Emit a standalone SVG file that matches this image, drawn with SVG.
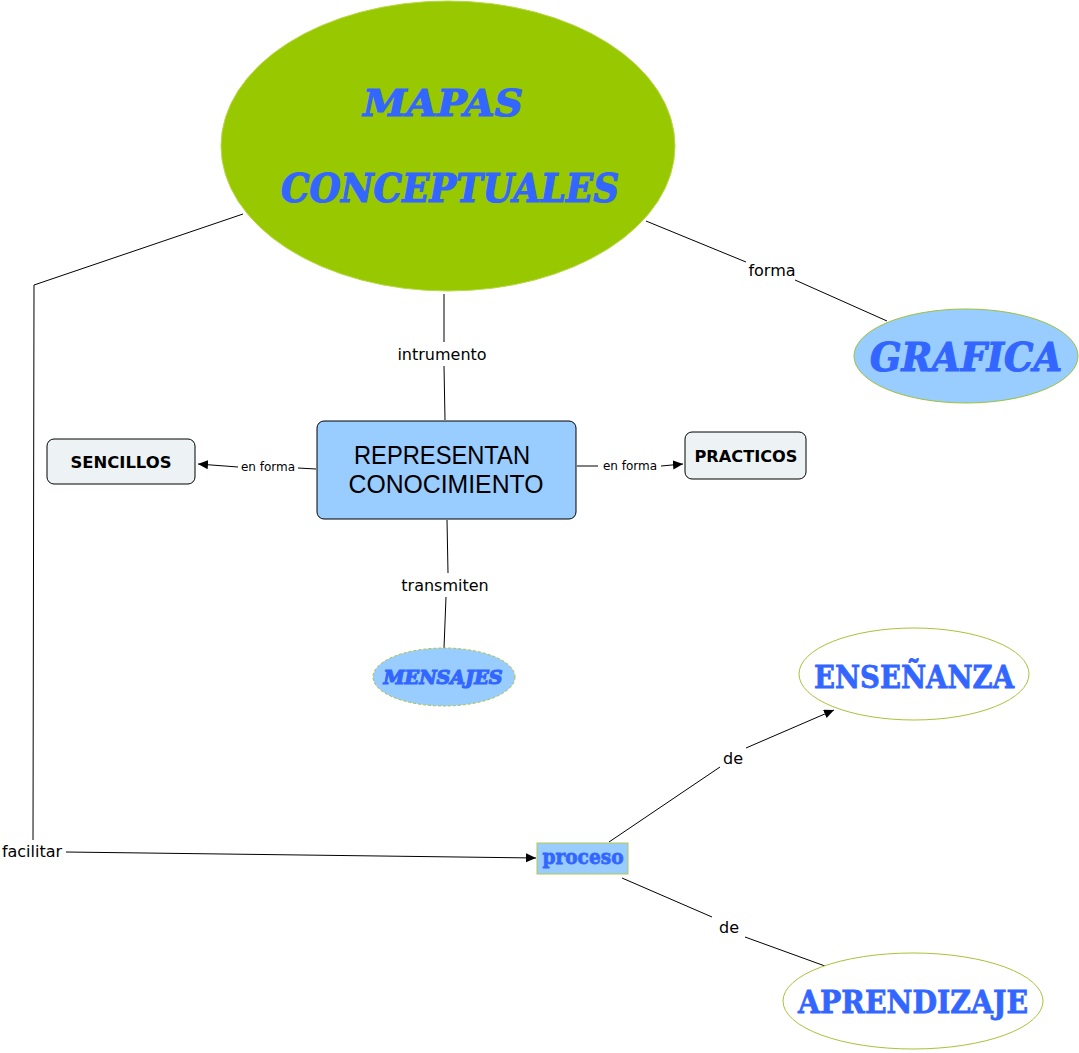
<svg xmlns="http://www.w3.org/2000/svg" width="1079" height="1053" viewBox="0 0 1079 1053">
<defs>
<marker id="arr" markerUnits="userSpaceOnUse" markerWidth="11" markerHeight="10" refX="10" refY="4.5" orient="auto">
<path d="M0,0 L10,4.5 L0,9 z" fill="#000"/>
</marker>
<style>
.ln{stroke:#000;stroke-width:1;fill:none}
.lbl{font-family:"DejaVu Sans",Verdana,sans-serif;font-size:16px;fill:#000;text-anchor:middle}
.sm{font-family:"DejaVu Sans",Verdana,sans-serif;font-size:12px;fill:#000;text-anchor:middle}
.deco{font-family:"DejaVu Serif",serif;font-weight:bold;font-style:italic;fill:#3366ff;stroke:#3366ff;stroke-width:1.2;text-anchor:middle}
.slab{font-family:"DejaVu Serif",serif;font-weight:bold;fill:#3366ff;stroke:#3366ff;stroke-width:0.8;text-anchor:middle}
.box{font-family:"DejaVu Sans",Verdana,sans-serif;font-weight:bold;font-size:16px;fill:#000;text-anchor:middle}
.blue{fill:#99ccff}
</style>
</defs>
<rect width="1079" height="1053" fill="#fff"/>
<g id="connectors">
<polyline class="ln" points="243,214 34,285 33,840"/>
<line class="ln" x1="66" y1="852" x2="536" y2="858" marker-end="url(#arr)"/>
<text class="lbl" x="32" y="857">facilitar</text>
<line class="ln" x1="444" y1="294" x2="444" y2="342"/>
<line class="ln" x1="444" y1="366" x2="445" y2="420"/>
<text class="lbl" x="442" y="360">intrumento</text>
<line class="ln" x1="646" y1="221" x2="746" y2="262"/>
<line class="ln" x1="795" y1="280" x2="887" y2="321"/>
<text class="lbl" x="772" y="276">forma</text>
<line class="ln" x1="316" y1="469" x2="298" y2="468"/>
<line class="ln" x1="238" y1="467" x2="198" y2="464" marker-end="url(#arr)"/>
<text class="sm" x="268" y="471">en forma</text>
<line class="ln" x1="577" y1="466" x2="598" y2="466"/>
<line class="ln" x1="661" y1="466" x2="683" y2="464" marker-end="url(#arr)"/>
<text class="sm" x="630" y="470">en forma</text>
<line class="ln" x1="447" y1="520" x2="448" y2="573"/>
<line class="ln" x1="446" y1="597" x2="444" y2="648"/>
<text class="lbl" x="445" y="591">transmiten</text>
<line class="ln" x1="609" y1="842" x2="720" y2="767"/>
<line class="ln" x1="746" y1="748" x2="834" y2="710" marker-end="url(#arr)"/>
<text class="lbl" x="733" y="764">de</text>
<line class="ln" x1="622" y1="878" x2="712" y2="917"/>
<line class="ln" x1="745" y1="937" x2="825" y2="966"/>
<text class="lbl" x="729" y="933">de</text>
</g>
<g id="mapas">
<ellipse cx="448" cy="146" rx="227" ry="145" fill="#97c800" stroke="#b8d84a"/>
<text class="deco" x="443" y="116" font-size="38" textLength="160" lengthAdjust="spacingAndGlyphs">MAPAS</text>
<text class="deco" x="450" y="202" font-size="40" textLength="338" lengthAdjust="spacingAndGlyphs">CONCEPTUALES</text>
</g>
<g id="grafica">
<ellipse cx="966" cy="356" rx="112" ry="47" class="blue" stroke="#9cc23a"/>
<text class="deco" x="966" y="371" font-size="39" textLength="192" lengthAdjust="spacingAndGlyphs">GRAFICA</text>
</g>
<g id="representan">
<rect x="317" y="421" width="259" height="98" rx="7" class="blue" stroke="#000"/>
<text x="442" y="464" font-family="'Liberation Sans',Arial,sans-serif" font-size="25" text-anchor="middle" textLength="176" lengthAdjust="spacingAndGlyphs">REPRESENTAN</text>
<text x="446" y="493" font-family="'Liberation Sans',Arial,sans-serif" font-size="25" text-anchor="middle" textLength="195" lengthAdjust="spacingAndGlyphs">CONOCIMIENTO</text>
</g>
<g id="sencillos">
<rect x="47" y="439" width="148" height="45" rx="7" fill="#edf3f5" stroke="#000"/>
<text class="box" x="121" y="468" textLength="101" lengthAdjust="spacingAndGlyphs">SENCILLOS</text>
</g>
<g id="practicos">
<rect x="685" y="432" width="121" height="47" rx="7" fill="#edf3f5" stroke="#000"/>
<text class="box" x="746" y="462" textLength="103" lengthAdjust="spacingAndGlyphs">PRACTICOS</text>
</g>
<g id="mensajes">
<ellipse cx="444" cy="677" rx="71" ry="29" class="blue" stroke="#a8c23a" stroke-dasharray="3,2"/>
<text class="deco" x="443" y="684" font-size="19" stroke-width="0.6" textLength="119" lengthAdjust="spacingAndGlyphs">MENSAJES</text>
</g>
<g id="proceso">
<rect x="537" y="843" width="91" height="31" class="blue" stroke="#b5c94b"/>
<text class="slab" x="583" y="864" font-size="21" stroke-width="0.3" textLength="81" lengthAdjust="spacingAndGlyphs">proceso</text>
</g>
<g id="ensenanza">
<ellipse cx="914" cy="674" rx="115" ry="46" fill="#fff" stroke="#a8c23a"/>
<text class="slab" x="914" y="688" font-size="32" textLength="200" lengthAdjust="spacingAndGlyphs">ENSEÑANZA</text>
</g>
<g id="aprendizaje">
<ellipse cx="913" cy="1001" rx="130" ry="48" fill="#fff" stroke="#a8c23a"/>
<text class="slab" x="913" y="1013" font-size="32" textLength="230" lengthAdjust="spacingAndGlyphs">APRENDIZAJE</text>
</g>
</svg>
